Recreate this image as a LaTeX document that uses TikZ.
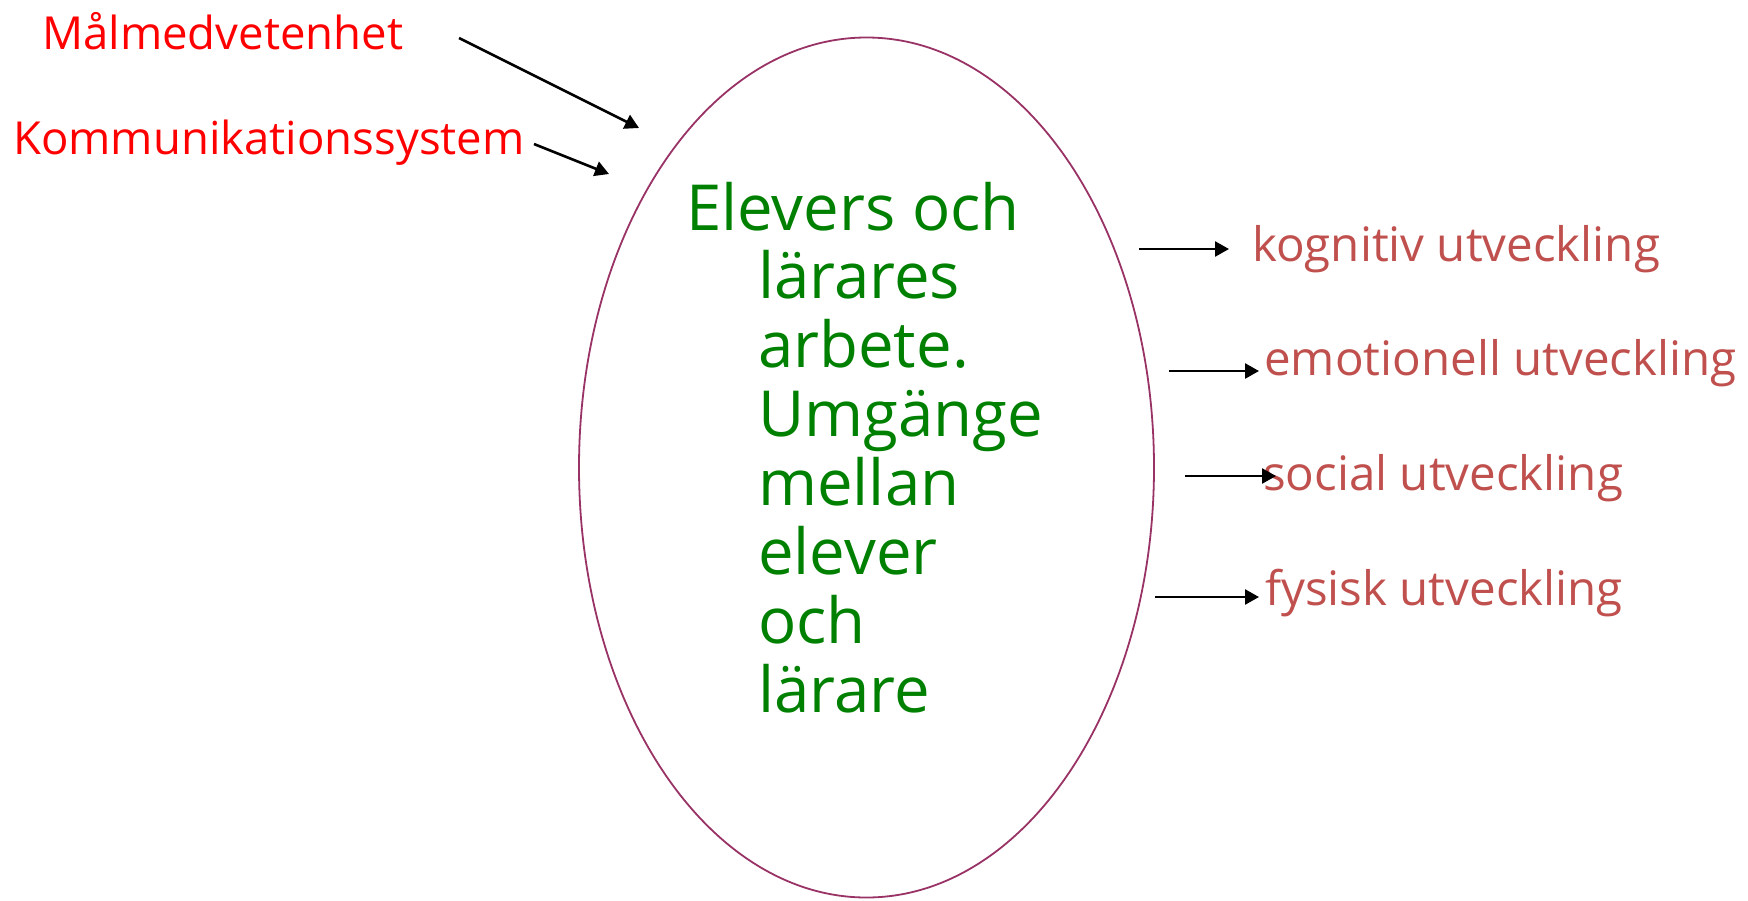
\documentclass[tikz,border=0pt]{standalone}
\usepackage{fontspec}
\setmainfont{Open Sans}
\usetikzlibrary{arrows.meta,shapes.geometric}
\definecolor{leftred}{RGB}{255,0,0}
\definecolor{midgreen}{RGB}{0,128,0}
\definecolor{rightred}{RGB}{192,80,77}
\definecolor{ringcol}{RGB}{153,51,102}
\tikzset{
  lefttext/.style={anchor=base west, inner sep=0pt, text=leftred, font=\fontsize{45.5}{50}\selectfont},
  righttext/.style={anchor=base west, inner sep=0pt, text=rightred, font=\fontsize{47.5}{52}\selectfont},
  midtext/.style={anchor=base west, inner sep=0pt, text=midgreen, font=\fontsize{63.5}{69}\selectfont},
  conn/.style={draw=black, line width=2.6pt, -{Triangle[length=14pt,width=15pt]}},
}
\begin{document}
\begin{tikzpicture}[x=1pt,y=-1pt]
\useasboundingbox[fill=white] (0,0) rectangle (1748,900);
% ellipse
\node[draw=ringcol, line width=1.8pt, ellipse, minimum width=575pt, minimum height=860pt, inner sep=0pt] (ring) at (866.5,467.5) {};
% centre text
\node[midtext] (title) at (686,230) {Elevers och};
\node[midtext, align=left, anchor=north west] (body) at (758,250) {lärares\\arbete.\\Umgänge\\mellan\\elever\\och\\lärare};
% left texts
\node[lefttext] (goal) at (42,49) {Målmedvetenhet};
\node[lefttext] (comm) at (13,154) {Kommunikationssystem};
\coordinate (goalS) at (459,38);
\coordinate (goalE) at (639,128);
\coordinate (commS) at (534,144);
\coordinate (commE) at (609,174);
\draw[conn] (goalS) -- (goalE);
\draw[conn] (commS) -- (commE);
% right texts
\node[righttext] (kog) at (1252,261) {kognitiv utveckling};
\node[righttext] (emo) at (1264,375) {emotionell utveckling};
\node[righttext] (soc) at (1263,490) {social utveckling};
\node[righttext] (fys) at (1265,605) {fysisk utveckling};
\coordinate (kogS) at (1139,249);
\coordinate (kogE) at (1229,249);
\coordinate (emoS) at (1169,371);
\coordinate (emoE) at (1259,371);
\coordinate (socS) at (1185,476);
\coordinate (socE) at (1276,476);
\coordinate (fysS) at (1155,597);
\coordinate (fysE) at (1259,597);
\draw[conn] (kogS) -- (kogE);
\draw[conn] (emoS) -- (emoE);
\draw[conn] (socS) -- (socE);
\draw[conn] (fysS) -- (fysE);
\end{tikzpicture}
\end{document}
